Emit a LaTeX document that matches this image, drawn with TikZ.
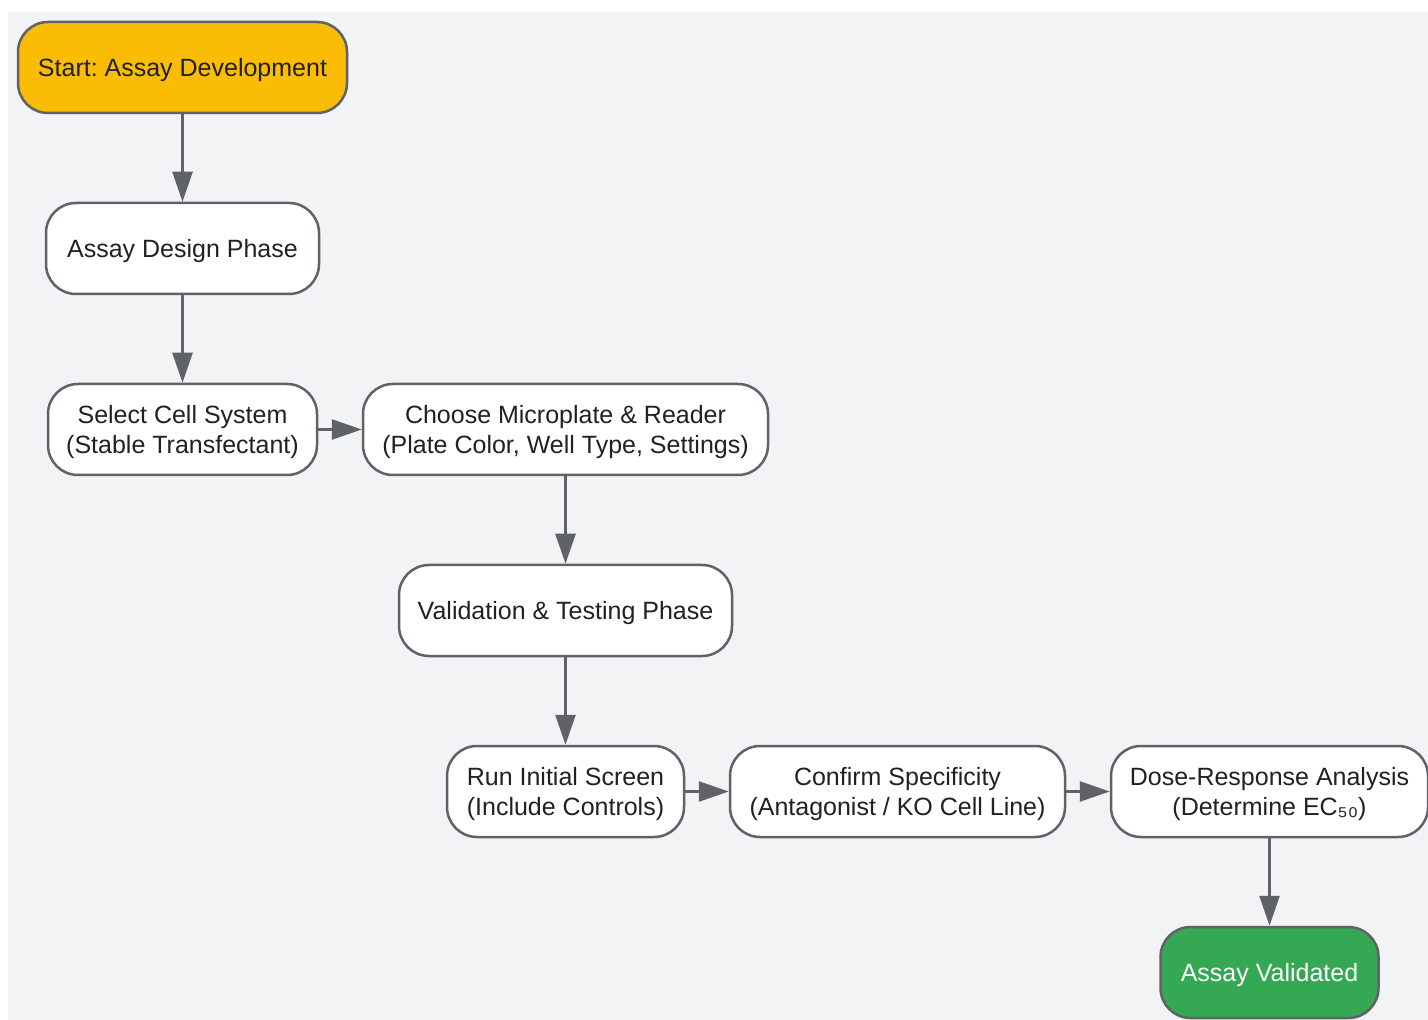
\documentclass[tikz,border=0pt]{standalone}
\usepackage{fontspec}
\setmainfont{Liberation Sans}
\frenchspacing
\usepackage{tikz}
\usetikzlibrary{positioning, arrows.meta}
\definecolor{bggray}{HTML}{F1F3F5}
\definecolor{linegray}{HTML}{5F6368}
\definecolor{textdark}{HTML}{202124}
\definecolor{startyellow}{HTML}{FBBC05}
\definecolor{endgreen}{HTML}{34A853}
\tikzset{
    phase/.style={
           rectangle,
           rounded corners=15pt,
           draw=linegray, line width=1.25pt,
           fill=white,
           text=textdark,
           minimum height=45.5pt,
           inner sep=2pt,
           text depth=0pt,
           align=center,
           font=\fontsize{12.5}{15}\selectfont,
           },
}

\begin{document}
\begin{tikzpicture}[-{Triangle[length=15pt,width=10pt]},line width=1.25pt,draw=linegray,node distance=43.75pt and 21.75pt]
  \useasboundingbox (0,0) rectangle (714pt,-510pt);
  \fill[bggray] (4pt,-6pt) rectangle (714pt,-510pt);
  \tikzstyle{every node}=[phase]
  % design branch
  \node[fill=startyellow, minimum width=164.5pt] at (91.25pt,-33.75pt) (start) {Start: Assay Development};
  \node[minimum width=136.5pt, below=of start]    (design)  {Assay Design Phase};
  \node[minimum width=134.5pt, below=of design]   (cells)   {Select Cell System\\(Stable Transfectant)};
  \node[minimum width=202.5pt, right=of cells]    (plate)   {Choose Microplate \& Reader\\(Plate Color, Well Type, Settings)};
  % validation branch
  \node[minimum width=166.5pt, below=of plate]    (testing) {Validation \& Testing Phase};
  \node[minimum width=118.5pt, below=of testing]  (screen)  {Run Initial Screen\\(Include Controls)};
  \node[minimum width=167.5pt, right=of screen]   (specif)  {Confirm Specificity\\(Antagonist / KO Cell Line)};
  \node[minimum width=158.5pt, right=of specif]   (dose)    {Dose-Response Analysis\\(Determine EC₅₀)};
  \node[fill=endgreen, text=white, minimum width=109pt, below=of dose] (done) {Assay Validated};
  \draw (start)   edge (design);
  \draw (design)  edge (cells);
  \draw (cells)   edge (plate);
  \draw (plate)   edge (testing);
  \draw (testing) edge (screen);
  \draw (screen)  edge (specif);
  \draw (specif)  edge (dose);
  \draw (dose)    edge (done);
\end{tikzpicture}
\end{document}
